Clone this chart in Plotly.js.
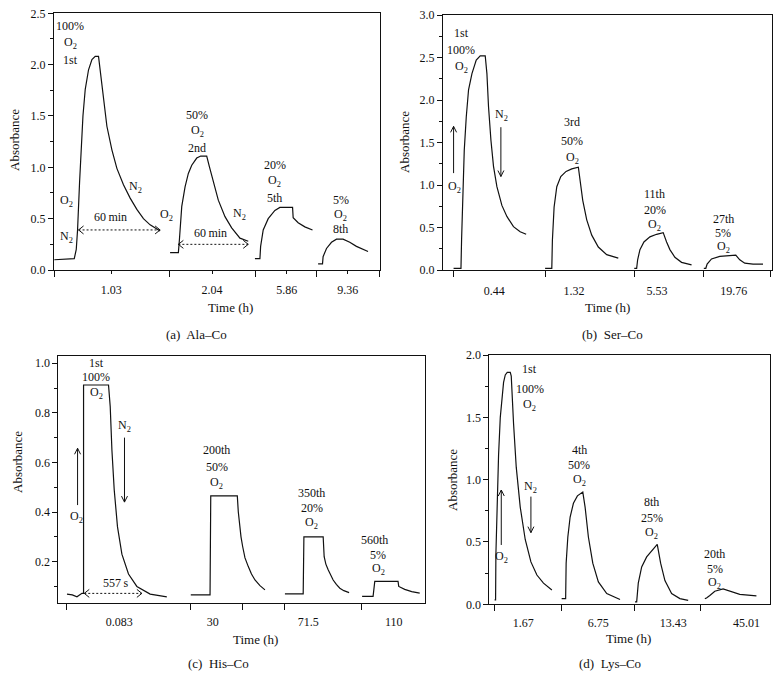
<!DOCTYPE html>
<html><head><meta charset="utf-8">
<script src="https://cdn.plot.ly/plotly-3.0.1.min.js"></script>
<style>html,body{margin:0;padding:0;background:#fff}#chart{width:782px;height:678px}</style>
</head><body><div id="chart"></div>
<script>
// ---- (a) Ala–Co : time in local axis units, absorbance ----
const alaT1 = [54, 74, 76, 77.3, 79.3, 80.7, 82.7, 85, 88.3, 91.7, 95, 98.3, 100, 103.3, 106.7, 111.7, 116.7, 123.3, 130, 136.7, 143.3, 150, 160];
const alaA1 = [0.10, 0.11, 0.20, 0.39, 0.85, 1.17, 1.50, 1.76, 1.95, 2.05, 2.08, 2.08, 1.95, 1.66, 1.40, 1.17, 0.99, 0.83, 0.70, 0.59, 0.50, 0.44, 0.38];
const alaT2 = [170, 178.3, 179.3, 181.7, 185, 188.3, 191.7, 196.7, 200.7, 206.7, 209.3, 213.3, 218.3, 225, 231.7, 240, 248.3];
const alaA2 = [0.17, 0.17, 0.29, 0.62, 0.81, 0.94, 1.02, 1.09, 1.11, 1.11, 1.01, 0.85, 0.68, 0.52, 0.41, 0.31, 0.28];
const alaT3 = [255, 260, 260.7, 263.3, 268.3, 275, 280, 292.7, 293.3, 298.3, 305, 312.7];
const alaA3 = [0.11, 0.11, 0.23, 0.39, 0.50, 0.58, 0.61, 0.61, 0.51, 0.46, 0.42, 0.39];
const alaT4 = [318.3, 322.7, 323.3, 326.7, 331.7, 336.7, 343.3, 350, 356.7, 363.3, 368.3];
const alaA4 = [0.06, 0.06, 0.13, 0.21, 0.27, 0.30, 0.30, 0.27, 0.23, 0.20, 0.18];
const alaTickPos = [111, 212, 287, 348];
const alaTickText = ['1.03', '2.04', '5.86', '9.36'];
const alaBreaks = [54, 169, 256, 317, 380];

// ---- (b) Ser–Co ----
const serT1 = [453.3, 460.7, 461.3, 462.7, 464, 466, 468.3, 471.7, 476, 480, 485, 486.7, 488.3, 490.7, 493.3, 496.7, 501.7, 506.7, 513.3, 520, 526];
const serA1 = [0.02, 0.02, 0.35, 0.94, 1.41, 1.80, 2.12, 2.31, 2.47, 2.52, 2.52, 2.31, 1.92, 1.53, 1.22, 0.98, 0.76, 0.63, 0.51, 0.45, 0.42];
const serT2 = [545, 551.7, 552.3, 554, 556.7, 560.7, 566, 571.7, 578.3, 580, 582.7, 586.7, 591.7, 598.3, 606.7, 618.3];
const serA2 = [0.02, 0.02, 0.35, 0.74, 0.98, 1.10, 1.16, 1.19, 1.21, 1.06, 0.82, 0.59, 0.41, 0.27, 0.18, 0.14];
const serT3 = [634.3, 636.7, 637.7, 640, 644, 650, 656.7, 663.3, 666.7, 670, 675, 681.7, 691.7];
const serA3 = [0.02, 0.02, 0.12, 0.24, 0.33, 0.39, 0.42, 0.44, 0.33, 0.24, 0.15, 0.09, 0.06];
const serT4 = [704, 706, 707.3, 711.7, 720, 728.3, 736, 740, 745, 753.3, 763.3];
const serA4 = [0.02, 0.02, 0.07, 0.13, 0.16, 0.165, 0.175, 0.12, 0.08, 0.07, 0.07];
const serTickPos = [494, 574, 657, 734];
const serTickText = ['0.44', '1.32', '5.53', '19.76'];
const serBreaks = [453.3, 545, 634.3, 704, 771];

// ---- (c) His–Co ----
const hisT1 = [66.7, 72, 76.7, 81.7, 83.3, 83.3, 108.3, 110, 111.7, 114, 117.3, 121.7, 128.3, 136.7, 150, 166.7];
const hisA1 = [0.069, 0.066, 0.058, 0.072, 0.072, 0.912, 0.912, 0.825, 0.65, 0.49, 0.34, 0.23, 0.15, 0.10, 0.069, 0.058];
const hisT2 = [190.7, 210, 210.7, 237.3, 238.3, 239.5, 241, 242.7, 245, 248.3, 251.5, 255, 260, 265];
const hisA2 = [0.066, 0.066, 0.465, 0.465, 0.40, 0.35, 0.30, 0.26, 0.215, 0.18, 0.15, 0.126, 0.103, 0.086];
const hisT3 = [285, 303.3, 304, 323.3, 324.3, 326, 328.3, 331, 333.3, 336.5, 340, 344, 349.3];
const hisA3 = [0.07, 0.07, 0.30, 0.30, 0.22, 0.19, 0.167, 0.145, 0.126, 0.108, 0.093, 0.083, 0.075];
const hisT4 = [362.3, 373.3, 375, 398.3, 399, 405, 412, 420];
const hisA4 = [0.06, 0.06, 0.12, 0.12, 0.10, 0.088, 0.079, 0.073];
const hisTickPos = [119, 212.7, 308.3, 394];
const hisTickText = ['0.083', '30', '71.5', '110'];
const hisBreaks = [66.7, 190.7, 242.7, 284.3, 361.7];

// ---- (d) Lys–Co ----
const lysT1 = [494.3, 495.3, 495.6, 496.7, 498.3, 500, 501.7, 503.3, 505, 507, 510, 511, 513.3, 516, 520, 525, 530.7, 536.7, 543.3, 551.7];
const lysA1 = [0.035, 0.035, 0.40, 0.75, 1.20, 1.50, 1.68, 1.78, 1.84, 1.86, 1.86, 1.83, 1.45, 1.10, 0.78, 0.52, 0.34, 0.235, 0.17, 0.115];
const lysT2 = [561.5, 565.5, 566, 567.7, 570, 573.3, 577.3, 582.7, 585, 588.3, 592.7, 598.3, 606.7, 620];
const lysA2 = [0.046, 0.046, 0.33, 0.54, 0.70, 0.81, 0.87, 0.90, 0.78, 0.54, 0.33, 0.18, 0.086, 0.038];
const lysT3 = [635, 636.7, 638.3, 641.7, 646.7, 651.7, 657.3, 660.7, 665, 671.7, 680, 688.3];
const lysA3 = [0.02, 0.02, 0.17, 0.30, 0.38, 0.43, 0.48, 0.33, 0.19, 0.086, 0.046, 0.032];
const lysT4 = [705, 706.7, 710, 715, 723.3, 730, 740, 756.7];
const lysA4 = [0.046, 0.05, 0.07, 0.105, 0.123, 0.105, 0.08, 0.067];
const lysTickPos = [523, 598.3, 673.3, 746.7];
const lysTickText = ['1.67', '6.75', '13.43', '45.01'];
const lysBreaks = [494.3, 561.5, 635, 700.7];

// ---------------------------------------------------------------
const F = 'Liberation Serif, Times New Roman, serif';
const INK = '#111';
const W = 782, H = 678;

const panels = [
  {xa: 'x',  ya: 'y',  segs: [[alaT1, alaA1], [alaT2, alaA2], [alaT3, alaA3], [alaT4, alaA4]]},
  {xa: 'x2', ya: 'y2', segs: [[serT1, serA1], [serT2, serA2], [serT3, serA3], [serT4, serA4]]},
  {xa: 'x3', ya: 'y3', segs: [[hisT1, hisA1], [hisT2, hisA2], [hisT3, hisA3], [hisT4, hisA4]]},
  {xa: 'x4', ya: 'y4', segs: [[lysT1, lysA1], [lysT2, lysA2], [lysT3, lysA3], [lysT4, lysA4]]}
];
const traces = [];
panels.forEach(p => p.segs.forEach(s => traces.push({
  type: 'scatter', mode: 'lines', x: s[0], y: s[1], xaxis: p.xa, yaxis: p.ya,
  line: {color: INK, width: 1.2}, hoverinfo: 'skip', showlegend: false
})));

function xAx(l, r, anchor, pos, text, labLen, breaks, standoff) {
  return {
    domain: [l / W, r / W], range: [l - 0.3, r + 0.3], anchor: anchor,
    tickmode: 'array', tickvals: pos, ticktext: text,
    ticks: 'outside', ticklen: labLen, tickwidth: 1, tickcolor: INK,
    ticklabelstandoff: standoff,
    minor: {tickmode: 'array', tickvals: breaks, ticks: 'outside', ticklen: 6, tickwidth: 1, tickcolor: INK, showgrid: false},
    showline: true, mirror: true, linecolor: INK, linewidth: 1,
    showgrid: false, zeroline: false, fixedrange: true,
    tickfont: {family: F, size: 12, color: INK}
  };
}
function yAx(bot, top, range, dtick, mdtick, anchor) {
  return {
    domain: [1 - bot / H, 1 - top / H], range: range, anchor: anchor,
    tickmode: 'linear', tick0: 0, dtick: dtick, tickformat: '.1f',
    ticks: 'outside', ticklen: 5, tickwidth: 1, tickcolor: INK,
    minor: {tick0: 0, dtick: mdtick, ticks: 'outside', ticklen: 3, tickwidth: 1, tickcolor: INK, showgrid: false},
    showline: true, mirror: true, linecolor: INK, linewidth: 1,
    showgrid: false, zeroline: false, fixedrange: true,
    tickfont: {family: F, size: 12, color: INK}
  };
}

const annotations = [];
const shapes = [];
function txt(xr, yr, x, y, s) {
  annotations.push({xref: xr, yref: yr, x: x, y: y, text: s, showarrow: false,
    xanchor: 'center', yanchor: 'middle', font: {family: F, size: 12, color: INK}});
}
function paperTxt(px, py, s, rot) {
  annotations.push({xref: 'paper', yref: 'paper', x: px / W, y: 1 - py / H, text: s, showarrow: false,
    xanchor: 'center', yanchor: 'middle', textangle: rot || 0, font: {family: F, size: 13, color: INK}});
}
function head(xr, yr, x, y, path) {
  shapes.push({type: 'path', xref: xr, yref: yr, xsizemode: 'pixel', ysizemode: 'pixel',
    xanchor: x, yanchor: y, path: path, fillcolor: 'rgba(0,0,0,0)', line: {color: INK, width: 1}});
}
function vArrow(xr, yr, x, yTail, yTip) {
  shapes.push({type: 'line', xref: xr, yref: yr, x0: x, x1: x, y0: yTail, y1: yTip, line: {color: INK, width: 1}});
  head(xr, yr, x, yTip, yTip > yTail ? 'M-3,-6L0,0L3,-6' : 'M-3,6L0,0L3,6');
}
function dotArrow(xr, yr, x0, x1, y) {
  shapes.push({type: 'line', xref: xr, yref: yr, x0: x0, x1: x1, y0: y, y1: y, line: {color: INK, width: 1, dash: '2px,2px'}});
  head(xr, yr, x0, y, 'M5,4L0,0L5,-4');
  head(xr, yr, x1, y, 'M-5,4L0,0L-5,-4');
}
const O2 = 'O<sub>2</sub>', N2 = 'N<sub>2</sub>';

// (a)
txt('x', 'y', 70, 2.374, '100%'); txt('x', 'y', 70, 2.212, O2); txt('x', 'y', 70, 2.049, '1st');
txt('x', 'y', 197, 1.512, '50%'); txt('x', 'y', 197, 1.349, O2); txt('x', 'y', 197, 1.187, '2nd');
txt('x', 'y', 275, 1.024, '20%'); txt('x', 'y', 275, 0.862, O2); txt('x', 'y', 275, 0.700, '5th');
txt('x', 'y', 341, 0.68, '5%'); txt('x', 'y', 341, 0.537, O2); txt('x', 'y', 341, 0.395, '8th');
txt('x', 'y', 66.7, 0.67, O2); txt('x', 'y', 66.7, 0.32, N2);
txt('x', 'y', 135, 0.81, N2); txt('x', 'y', 110, 0.52, '60\u2009min');
txt('x', 'y', 166.7, 0.54, O2); txt('x', 'y', 240, 0.55, N2); txt('x', 'y', 210, 0.36, '60\u2009min');
dotArrow('x', 'y', 78.3, 160, 0.39);
dotArrow('x', 'y', 178.3, 248.3, 0.25);

// (b)
txt('x2', 'y2', 461, 2.788, '1st'); txt('x2', 'y2', 461, 2.588, '100%'); txt('x2', 'y2', 461, 2.392, O2);
vArrow('x2', 'y2', 453.3, 1.14, 1.69); txt('x2', 'y2', 454, 0.98, O2);
txt('x2', 'y2', 501.7, 1.82, N2); vArrow('x2', 'y2', 500.7, 1.68, 1.10);
txt('x2', 'y2', 572, 1.745, '3rd'); txt('x2', 'y2', 572, 1.521, '50%'); txt('x2', 'y2', 572, 1.314, O2);
txt('x2', 'y2', 655, 0.894, '11th'); txt('x2', 'y2', 655, 0.706, '20%'); txt('x2', 'y2', 655, 0.529, O2);
txt('x2', 'y2', 723.3, 0.60, '27th'); txt('x2', 'y2', 723.3, 0.432, '5%'); txt('x2', 'y2', 723.3, 0.265, O2);

// (c)
txt('x3', 'y3', 96, 1.0, '1st'); txt('x3', 'y3', 96, 0.943, '100%'); txt('x3', 'y3', 96, 0.881, O2);
vArrow('x3', 'y3', 77.3, 0.428, 0.657); txt('x3', 'y3', 76.7, 0.381, O2);
txt('x3', 'y3', 124.3, 0.747, N2); vArrow('x3', 'y3', 124.3, 0.70, 0.44);
txt('x3', 'y3', 115, 0.113, '557\u2009s'); dotArrow('x3', 'y3', 84, 141.7, 0.072);
txt('x3', 'y3', 216.7, 0.650, '200th'); txt('x3', 'y3', 216.7, 0.583, '50%'); txt('x3', 'y3', 216.7, 0.516, O2);
txt('x3', 'y3', 311.7, 0.476, '350th'); txt('x3', 'y3', 311.7, 0.415, '20%'); txt('x3', 'y3', 311.7, 0.357, O2);
txt('x3', 'y3', 375, 0.287, '560th'); txt('x3', 'y3', 378.3, 0.227, '5%'); txt('x3', 'y3', 378.3, 0.169, O2);

// (d)
txt('x4', 'y4', 529.3, 1.886, '1st'); txt('x4', 'y4', 529.3, 1.728, '100%'); txt('x4', 'y4', 529.3, 1.60, O2);
vArrow('x4', 'y4', 501, 0.476, 0.917); txt('x4', 'y4', 501, 0.382, O2);
txt('x4', 'y4', 530.7, 0.944, N2); vArrow('x4', 'y4', 530.7, 0.864, 0.575);
txt('x4', 'y4', 579, 1.238, '4th'); txt('x4', 'y4', 579, 1.118, '50%'); txt('x4', 'y4', 579, 0.998, O2);
txt('x4', 'y4', 651.7, 0.823, '8th'); txt('x4', 'y4', 651.7, 0.695, '25%'); txt('x4', 'y4', 651.7, 0.575, O2);
txt('x4', 'y4', 715, 0.40, '20th'); txt('x4', 'y4', 715, 0.285, '5%'); txt('x4', 'y4', 715, 0.17, O2);

// axis titles and captions
paperTxt(14, 140, 'Absorbance', -90); paperTxt(230, 307.5, 'Time (h)'); paperTxt(196, 335, '(a)\u00a0 Ala\u2013Co');
paperTxt(405, 142, 'Absorbance', -90); paperTxt(607, 307.5, 'Time (h)'); paperTxt(612, 335, '(b)\u00a0 Ser\u2013Co');
paperTxt(18, 462, 'Absorbance', -90); paperTxt(255, 639, 'Time (h)'); paperTxt(218, 663, '(c)\u00a0 His\u2013Co');
paperTxt(452, 480, 'Absorbance', -90); paperTxt(628, 638.5, 'Time (h)'); paperTxt(610, 663, '(d)\u00a0 Lys\u2013Co');

const layout = {
  width: W, height: H, margin: {l: 0, r: 0, t: 0, b: 0},
  paper_bgcolor: '#fff', plot_bgcolor: '#fff', showlegend: false, hovermode: false,
  font: {family: F, size: 12, color: INK},
  xaxis:  xAx(54, 380, 'y', alaTickPos, alaTickText, 3, alaBreaks, 6),
  yaxis:  yAx(270, 13.3, [0, 2.5], 0.5, 0.25, 'x'),
  xaxis2: xAx(443, 771.5, 'y2', serTickPos, serTickText, 0, serBreaks, 10),
  yaxis2: yAx(270, 15, [0, 3.0], 0.5, 0.25, 'x2'),
  xaxis3: xAx(58.3, 425, 'y3', hisTickPos, hisTickText, 0, hisBreaks, 7),
  yaxis3: yAx(603.3, 356, [0.032, 1.029], 0.2, 0.1, 'x3'),
  xaxis4: xAx(489.3, 770, 'y4', lysTickPos, lysTickText, 0, lysBreaks, 7),
  yaxis4: yAx(604.3, 355, [0, 2.0], 0.5, 0.25, 'x4'),
  annotations: annotations, shapes: shapes
};
Plotly.newPlot('chart', traces, layout, {staticPlot: true, displayModeBar: false});
</script></body></html>
